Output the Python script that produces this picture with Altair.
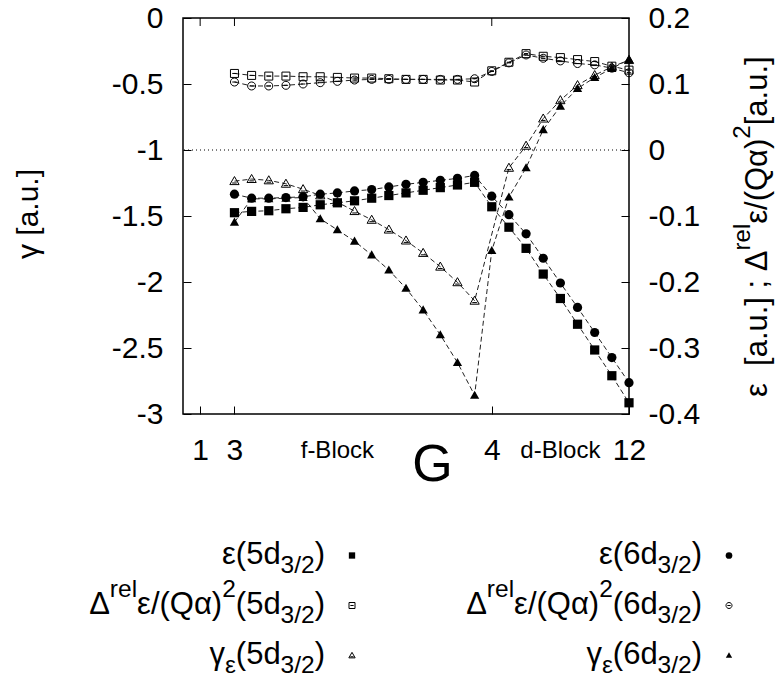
import altair as alt
import pandas as pd

# ---------------- data ----------------
g_index = list(range(24))  # group 3, f-block, groups 4..12

eps_5d = [-0.095, -0.093, -0.092, -0.089, -0.087, -0.083, -0.080, -0.077, -0.073, -0.069,
          -0.065, -0.061, -0.057, -0.053, -0.049, -0.086, -0.117, -0.149, -0.188, -0.225,
          -0.264, -0.303, -0.342, -0.383]
eps_6d = [-0.067, -0.073, -0.073, -0.072, -0.071, -0.067, -0.065, -0.062, -0.060, -0.056,
          -0.052, -0.049, -0.046, -0.043, -0.0385, -0.070, -0.098, -0.127, -0.164, -0.2015,
          -0.2385, -0.2765, -0.3145, -0.3525]
drel_5d = [0.116, 0.113, 0.112, 0.112, 0.111, 0.111, 0.110, 0.109, 0.109, 0.108, 0.107, 0.107,
           0.106, 0.106, 0.103, 0.120, 0.133, 0.146, 0.142, 0.140, 0.137, 0.134, 0.127, 0.121]
drel_6d = [0.103, 0.097, 0.097, 0.098, 0.100, 0.102, 0.104, 0.106, 0.107, 0.107, 0.107, 0.107,
           0.107, 0.107, 0.108, 0.119, 0.132, 0.144, 0.139, 0.135, 0.131, 0.129, 0.124, 0.117]
gam_5d = [-1.236, -1.220, -1.230, -1.256, -1.297, -1.344, -1.395, -1.463, -1.529, -1.603,
          -1.686, -1.780, -1.884, -2.002, -2.142, None, -1.135, -0.968, -0.762, -0.623,
          -0.509, -0.433, -0.370, -0.319]
gam_6d = [-1.547, -1.370, -1.370, -1.365, -1.360, -1.521, -1.605, -1.691, -1.795, -1.909,
          -2.048, -2.212, -2.400, -2.610, -2.858, -1.762, -1.357, -1.135, -0.846, -0.668,
          -0.534, -0.451, -0.382, -0.314]

x_tick_pos = [-2, 0, 15, 23]
x_tick_text = ["1", "3", "4", "12"]
block_pos = [6, 19]
block_text = ["f-Block", "d-Block"]
gamma_ticks = [-3, -2.5, -2, -1.5, -1, -0.5, 0]
eps_ticks = [-0.4, -0.3, -0.2, -0.1, 0, 0.1, 0.2]

left_title = "γ\u00a0[a.u.]"
right_title = [("ε\u00a0\u00a0[a.u.]\u00a0;\u00a0Δ", "m"), ("rel", "p"), ("ε/(Qα)", "m"),
               ("2", "p"), ("\u00a0[a.u.]", "m")]
legend_entries = [
    [("ε(5d", "m"), ("3/2", "b"), (")", "m")],
    [("Δ", "m"), ("rel", "p"), ("ε/(Qα)", "m"), ("2", "p"), ("(5d", "m"), ("3/2", "b"), (")", "m")],
    [("γ", "m"), ("ε", "b"), ("(5d", "m"), ("3/2", "b"), (")", "m")],
    [("ε(6d", "m"), ("3/2", "b"), (")", "m")],
    [("Δ", "m"), ("rel", "p"), ("ε/(Qα)", "m"), ("2", "p"), ("(6d", "m"), ("3/2", "b"), (")", "m")],
    [("γ", "m"), ("ε", "b"), ("(6d", "m"), ("3/2", "b"), (")", "m")],
]

# ---------------- layout ----------------
FONT = "Liberation Sans"
L, T, W, H = 183, 18, 446, 396
INK = "black"

SQ_BAR = "M-1,-1H1V1H-1Z M-0.55,0H0.55"
CI_BAR = "M-1,0A1,1 0 1,1 1,0A1,1 0 1,1 -1,0Z M-0.55,0H0.55"
TRI = "M0,-1L1,0.75L-1,0.75Z"
TRI_BAR = "M0,-1L1,0.75L-1,0.75Z M-0.5,0.4H0.5"

CW = {' ': 278, '\u00a0': 278, '(': 333, ')': 333, '/': 278, '.': 278, ';': 278, '[': 278,
      ']': 278, '-': 333, 'a': 556, 'd': 556, 'e': 556, 'l': 222, 'r': 333, 'u': 556,
      'Q': 778, 'ε': 446, 'γ': 500, 'Δ': 668, 'α': 578}


def tw(s, fs):
    return sum(CW.get(c, 556) for c in s) * fs / 1000.0


def horiz_pieces(pieces, x_end, base_y, fm, fsm, sub_dy, sup_dy):
    total = sum(tw(t, fm if k == "m" else fsm) for t, k in pieces)
    x = x_end - total
    rows = []
    for t, k in pieces:
        fs = fm if k == "m" else fsm
        dy = 0 if k == "m" else (sub_dy if k == "b" else sup_dy)
        rows.append(dict(px=x - L, py=base_y + dy - T, txt=t, fs=fs))
        x += tw(t, fs)
    return rows


def vert_pieces(pieces, x_base, y_start, fm, fsm, sup_dx):
    rows = []
    y = y_start
    for t, k in pieces:
        fs = fm if k == "m" else fsm
        dx = 0 if k == "m" else -sup_dx
        rows.append(dict(px=x_base + dx - L, py=y - T, txt=t, fs=fs))
        y -= tw(t, fs)
    return rows


def label_expr(vals, texts):
    e = "''"
    for v, s in zip(vals, texts):
        e = f"datum.value == {v} ? '{s}' : ({e})"
    return e


num_expr = "(datum.value < 0 ? '-' : '') + format(abs(datum.value), '~g')"

x_axis = alt.Axis(values=x_tick_pos, labelExpr=label_expr(x_tick_pos, x_tick_text), domain=False,
                  grid=False, tickSize=8, offset=-8, tickColor=INK, labelPadding=45,
                  labelBaseline="alphabetic", labelFont=FONT, labelFontSize=30, labelColor=INK,
                  labelFlush=False, labelOverlap=False, title=None)
left_axis = alt.Axis(orient="left", values=gamma_ticks, labelExpr=num_expr, domain=False, grid=False,
                     tickSize=8, offset=-8, tickColor=INK, labelPadding=20, labelFont=FONT,
                     labelFontSize=30, labelColor=INK, labelFlush=False, labelOverlap=False, title=None)
right_axis = alt.Axis(orient="right", values=eps_ticks, labelExpr=num_expr, domain=False, grid=False,
                      tickSize=8, offset=-8, tickColor=INK, labelPadding=19, labelFont=FONT,
                      labelFontSize=30, labelColor=INK, labelFlush=False, labelOverlap=False, title=None)

x_enc = alt.X("i:Q", scale=alt.Scale(domain=[-3, 23], nice=False, zero=False), axis=x_axis)
yg = alt.Y("g:Q", scale=alt.Scale(domain=[-3, 0], nice=False, zero=False), axis=left_axis)
ye = alt.Y("e:Q", scale=alt.Scale(domain=[-0.4, 0.2], nice=False, zero=False), axis=right_axis)


def series(values, field, yenc, shape, filled, size):
    df = pd.DataFrame({"i": g_index, field: values}).dropna()
    base = alt.Chart(df)
    line = base.mark_line(color="#222222", strokeWidth=1, strokeDash=[5, 3]).encode(x=x_enc, y=yenc)
    pts = base.mark_point(shape=shape, filled=filled, size=size, color=INK, opacity=1,
                          strokeWidth=1).encode(x=x_enc, y=yenc)
    return [line, pts]


zero_rule = alt.Chart(pd.DataFrame({"g": [-1]})).mark_rule(
    color=INK, strokeWidth=1, strokeDash=[1, 3]).encode(y=yg)

gamma_layer = alt.layer(zero_rule,
                        *series(gam_5d, "g", yg, TRI_BAR, False, 85),
                        *series(gam_6d, "g", yg, TRI, True, 85))
eps_layer = alt.layer(*series(eps_5d, "e", ye, "square", True, 85),
                      *series(eps_6d, "e", ye, "circle", True, 85),
                      *series(drel_5d, "e", ye, SQ_BAR, False, 64),
                      *series(drel_6d, "e", ye, CI_BAR, False, 64))

top_ticks = alt.Chart(pd.DataFrame({"i": x_tick_pos[:3]})).mark_rule(
    color=INK, strokeWidth=1).encode(x=x_enc, y=alt.value(0), y2=alt.value(8))

blocks = alt.Chart(pd.DataFrame({"i": block_pos, "lab": block_text})).mark_text(
    font=FONT, fontSize=24, baseline="alphabetic", align="center", color=INK).encode(
    x=x_enc, y=alt.value(458 - T), text="lab:N")

# legend text pieces
leg_rows = []
col_end = [325, 702]
row_base = [564, 614, 664]
for k, entry in enumerate(legend_entries):
    leg_rows += horiz_pieces(entry, col_end[k // 3], row_base[k % 3], 31, 24.5, 9, -17)
leg_text = alt.Chart(pd.DataFrame(leg_rows)).mark_text(
    font=FONT, align="left", baseline="alphabetic", color=INK).encode(
    x=alt.X("px:Q", scale=None), y=alt.Y("py:Q", scale=None), text="txt:N",
    size=alt.Size("fs:Q", scale=None))

leg_shapes = [("square", True, 40), (SQ_BAR, False, 36), (TRI_BAR, False, 40),
              ("circle", True, 45), (CI_BAR, False, 36), (TRI, True, 40)]
leg_marks = []
for k, (shp, fil, sz) in enumerate(leg_shapes):
    leg_marks.append(alt.Chart(pd.DataFrame({"a": [0]})).mark_point(
        shape=shp, filled=fil, size=sz, color=INK, opacity=1, strokeWidth=1).encode(
        x=alt.value(col_end[k // 3] + 27 - L), y=alt.value(row_base[k % 3] - 8.5 - T)))

# axis titles
rt_rows = vert_pieces(right_title, 767, 397, 31, 24, 17)
rtitle = alt.Chart(pd.DataFrame(rt_rows)).mark_text(
    font=FONT, align="left", baseline="alphabetic", angle=270, color=INK).encode(
    x=alt.X("px:Q", scale=None), y=alt.Y("py:Q", scale=None), text="txt:N",
    size=alt.Size("fs:Q", scale=None))
ltitle = alt.Chart(pd.DataFrame({"a": [0]})).mark_text(
    text=left_title, font=FONT, fontSize=30, align="center", baseline="alphabetic",
    angle=270, color=INK).encode(x=alt.value(38 - L), y=alt.value(214 - T))
gtitle = alt.Chart(pd.DataFrame({"a": [0]})).mark_text(
    text="G", font=FONT, fontSize=52, align="center", baseline="alphabetic",
    color=INK).encode(x=alt.value(432.5 - L), y=alt.value(481 - T))

chart = alt.layer(gamma_layer, eps_layer, top_ticks, blocks, leg_text, *leg_marks,
                  rtitle, ltitle, gtitle).resolve_scale(y="independent").properties(
    width=W, height=H,
    padding={"left": L, "top": T, "right": 781 - L - W, "bottom": 679 - T - H},
    autosize=alt.AutoSizeParams(type="none"),
    background="white",
).configure_view(stroke=INK, strokeWidth=1.5)

chart.save("out.html", embed_options={"renderer": "svg", "actions": False})
